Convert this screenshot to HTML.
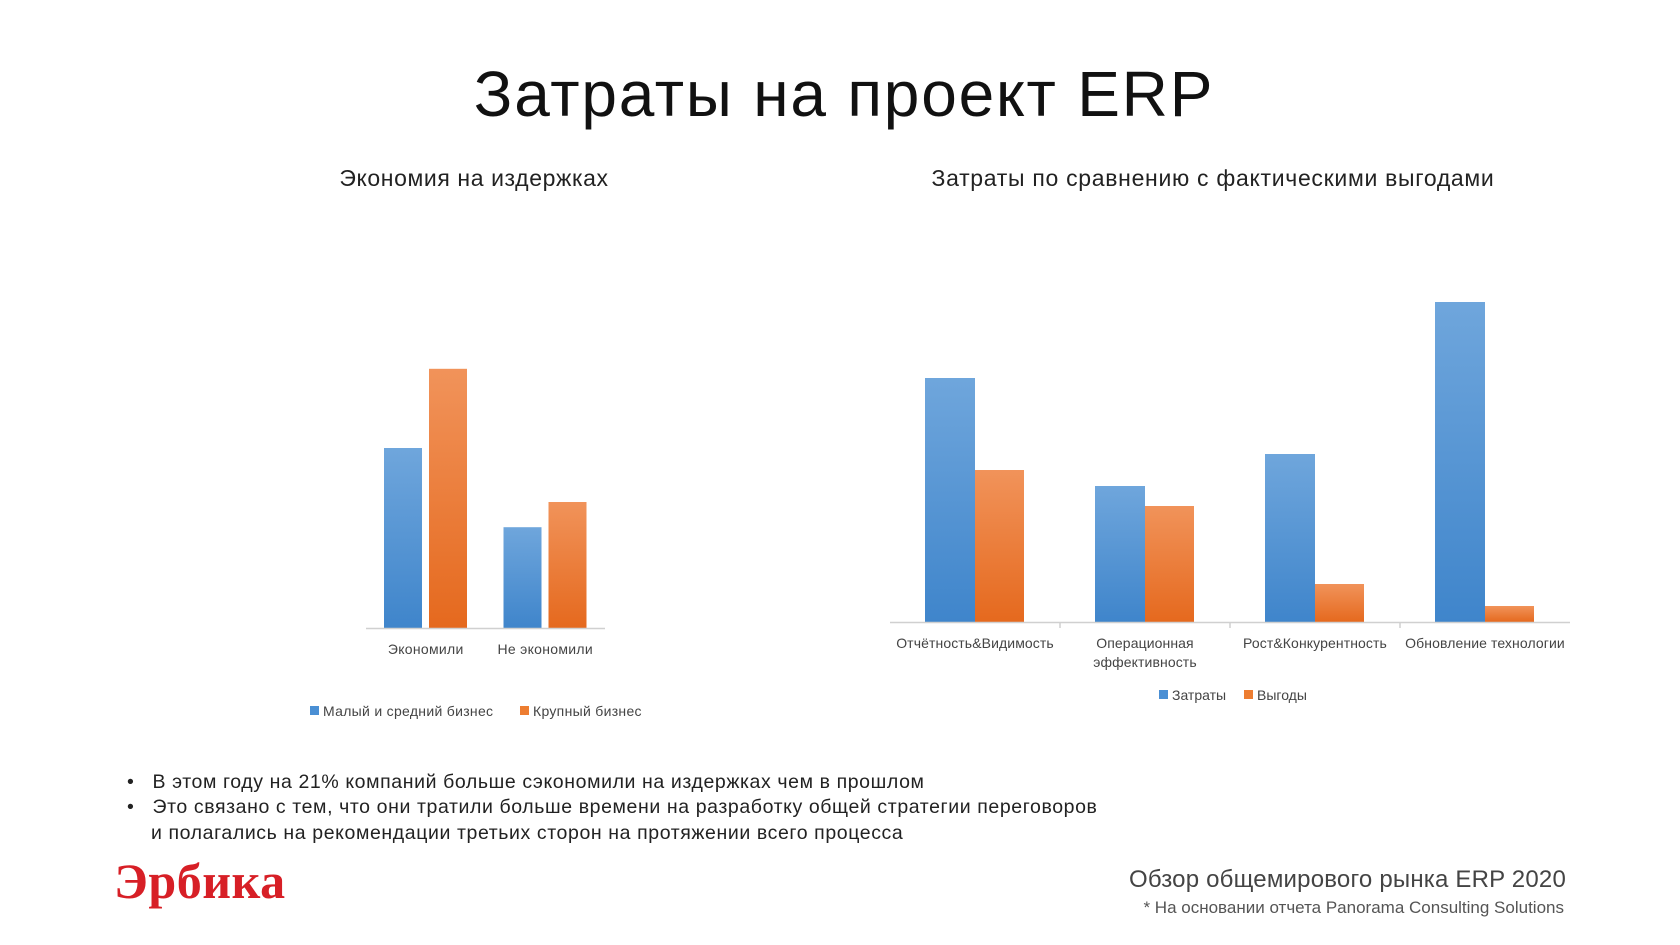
<!DOCTYPE html>
<html><head><meta charset="utf-8"><style>
body{margin:0;width:1680px;height:945px;background:#fff;font-family:"Liberation Sans","DejaVu Sans",sans-serif;overflow:hidden;position:relative}
.t{position:absolute;white-space:nowrap}
</style></head><body>
<div class="t" style="left:0;width:1688px;text-align:center;top:57px;font-size:64px;color:#111;letter-spacing:1.8px">Затраты на проект ERP</div>
<div class="t" style="left:274px;width:400px;text-align:center;top:165px;font-size:23px;color:#222;letter-spacing:0.6px">Экономия на издержках</div>
<div class="t" style="left:913px;width:600px;text-align:center;top:165px;font-size:23px;color:#222;letter-spacing:0.7px">Затраты по сравнению с фактическими выгодами</div>
<svg id="chart" width="1680" height="945" style="position:absolute;left:0;top:0">
<defs>
<linearGradient id="gb" x1="0" y1="0" x2="0" y2="1"><stop offset="0" stop-color="#6fa6dc"/><stop offset="1" stop-color="#3f85cb"/></linearGradient>
<linearGradient id="go" x1="0" y1="0" x2="0" y2="1"><stop offset="0" stop-color="#f1935a"/><stop offset="1" stop-color="#e5691e"/></linearGradient>
</defs>
</svg>
<div class="t" style="left:127px;top:771px;font-size:19.5px;color:#222;letter-spacing:0.6px">•&nbsp;&nbsp;&nbsp;В этом году на 21% компаний больше сэкономили на издержках чем в прошлом</div>
<div class="t" style="left:127px;top:796px;font-size:19.5px;color:#222;letter-spacing:0.6px">•&nbsp;&nbsp;&nbsp;Это связано с тем, что они тратили больше времени на разработку общей стратегии переговоров</div>
<div class="t" style="left:151px;top:822px;font-size:19.5px;color:#222;letter-spacing:0.6px">и полагались на рекомендации третьих сторон на протяжении всего процесса</div>
<div class="t" style="left:114px;top:852px;font-family:'Liberation Serif',serif;font-weight:bold;font-size:50px;color:#d71f26;letter-spacing:0.5px">Эрбика</div>
<div class="t" style="right:114px;top:866px;font-size:24px;color:#444;letter-spacing:0.2px">Обзор общемирового рынка ERP 2020</div>
<div class="t" style="right:116px;top:898px;font-size:17px;color:#555">* На основании отчета Panorama Consulting Solutions</div>
<script>
const leftCats=["Экономили","Не экономили"];
const leftSmall=[50,28];
const leftLarge=[72,35];
const leftLegend=["Малый и средний бизнес","Крупный бизнес"];
const rightCats=[["Отчётность&Видимость"],["Операционная","эффективность"],["Рост&Конкурентность"],["Обновление технологии"]];
const rightCost=[61,34,42,80];
const rightBenefit=[38,29,9.5,4];
const rightLegend=["Затраты","Выгоды"];
const svg=document.getElementById('chart');
const NS="http://www.w3.org/2000/svg";
function mk(tag,attrs){const e=document.createElementNS(NS,tag);for(const k in attrs)e.setAttribute(k,attrs[k]);svg.appendChild(e);return e;}
// left chart
const L={x0:366,x1:605,base:628,scale:3.6};
const lyL=v=>L.base-v*L.scale;
const lbw=(L.x1-L.x0)/leftCats.length;
leftCats.forEach((c,i)=>{
  const gx=L.x0+i*lbw;
  const b=mk('rect',{x:gx+18,y:lyL(leftSmall[i]),width:38,height:leftSmall[i]*L.scale,fill:'url(#gb)'});
  
  
  const o=mk('rect',{x:gx+63,y:lyL(leftLarge[i]),width:38,height:leftLarge[i]*L.scale,fill:'url(#go)'});
  
  
  const t=mk('text',{x:gx+lbw/2,y:654,'text-anchor':'middle','font-size':14,fill:'#444','letter-spacing':0.3});t.textContent=c;
  
  
});
const la=mk('line',{x1:L.x0,x2:L.x1,y1:L.base+0.5,y2:L.base+0.5,stroke:'#d0d0d0','stroke-width':1.5});


[[310,'#4a8fd4',0],[520,'#ed7d31',1]].forEach(([x,c,i])=>{
  const r=mk('rect',{x:x,y:706,width:9,height:9,fill:c});
  
  
  const t=mk('text',{x:x+13,y:716,'font-size':14,fill:'#444','letter-spacing':0.3});t.textContent=leftLegend[i];
  
  
});
// right chart
const R={x0:890,x1:1570,base:622,scale:4};
const ryR=v=>R.base-v*R.scale;
const rbw=(R.x1-R.x0)/rightCats.length;
rightCats.forEach((c,i)=>{
  const gx=R.x0+i*rbw;
  const b=mk('rect',{x:gx+35,y:ryR(rightCost[i]),width:50,height:rightCost[i]*R.scale,fill:'url(#gb)'});
  
  
  const o=mk('rect',{x:gx+85,y:ryR(rightBenefit[i]),width:49,height:rightBenefit[i]*R.scale,fill:'url(#go)'});
  
  
  c.forEach((line,j)=>{
    const t=mk('text',{x:gx+rbw/2,y:648+j*19,'text-anchor':'middle','font-size':14,fill:'#444','letter-spacing':0.1});t.textContent=line;
    
    
  });
  if(i>0){const tk=mk('line',{x1:gx,x2:gx,y1:R.base,y2:R.base+6,stroke:'#d0d0d0','stroke-width':1.5});
    
    }
});
const ra=mk('line',{x1:R.x0,x2:R.x1,y1:R.base+0.5,y2:R.base+0.5,stroke:'#d0d0d0','stroke-width':1.5});


[[1159,'#4a8fd4',0],[1244,'#ed7d31',1]].forEach(([x,c,i])=>{
  const r=mk('rect',{x:x,y:690,width:9,height:9,fill:c});
  
  
  const t=mk('text',{x:x+13,y:700,'font-size':14,fill:'#444'});t.textContent=rightLegend[i];
  
  
});
</script>
</body></html>
